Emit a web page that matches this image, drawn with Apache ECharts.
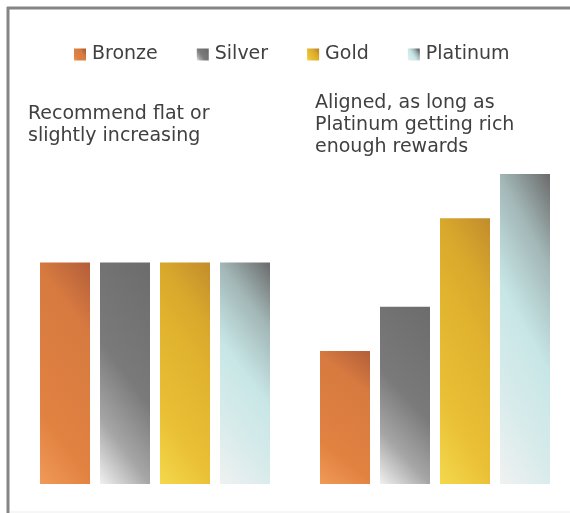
<!DOCTYPE html>
<html>
<head>
<meta charset="utf-8">
<script src="https://cdn.jsdelivr.net/npm/echarts@6/dist/echarts.min.js"></script>
<style>
  html, body { margin: 0; padding: 0; background: #ffffff; }
  #chart { width: 570px; height: 513px; }
</style>
</head>
<body>
<div id="chart"></div>
<script>
// Two scenarios, four reward tiers
const categories = ['Flat', 'Aligned'];
const tiers = ['Bronze', 'Silver', 'Gold', 'Platinum'];
const bronze = [5, 3];
const silver = [5, 4];
const gold = [5, 6];
const platinum = [5, 7];
const notes = [
  'Recommend flat or\nslightly increasing',
  'Aligned, as long as\nPlatinum getting rich\nenough rewards'
];

// Layout: category centres sit on the grid edges (boundaryGap off)
const W = 570, H = 513;
const GRID_LEFT = 155, GRID_WIDTH = 280, GRID_TOP = 41, GRID_BOTTOM = 29;
const Y_MAX = 10;
const BAR_W = 50;
const pxPerUnit = (H - GRID_TOP - GRID_BOTTOM) / Y_MAX;

// Colour stops per tier, light (bottom-left) to dark (top-right)
const stops = {
  Bronze: [[0, '#f09a58'], [0.25, '#e28241'], [0.75, '#d67a40'], [1, '#b45e3a']],
  Silver: [[0, '#f0f0f0'], [0.23, '#a6a6a6'], [0.5, '#7a7a7a'], [1, '#6c6c6c']],
  Gold: [[0, '#f4d84c'], [0.25, '#eac036'], [0.6, '#e0b22e'], [0.77, '#d8a82c'], [1, '#c28c2c']],
  Platinum: [[0, '#f0f1f1'], [0.25, '#d8ebeb'], [0.5, '#c8e6e6'], [0.77, '#a2b6b6'], [1, '#6a6a6a']]
};
const values = { Bronze: bronze, Silver: silver, Gold: gold, Platinum: platinum };

// Shape-scaled diagonal gradient: t = A*u + B*v (u across, v up, both 0..1 of the bar box)
const A = 0.23, B = 0.77;
function metal(name, aspect) {
  const d = A * A + (B * B) / (aspect * aspect);
  const x2 = A / d;
  const yUp = B / (aspect * aspect * A * A + B * B);
  return {
    type: 'linear', x: 0, y: 1, x2: x2, y2: 1 - yUp,
    colorStops: stops[name].map(s => ({ offset: s[0], color: s[1] }))
  };
}
function legendFill(name) {
  return {
    type: 'linear', x: 0, y: 1, x2: 1, y2: 0.3,
    colorStops: stops[name].map(s => ({ offset: s[0], color: s[1] }))
  };
}

const chart = echarts.init(document.getElementById('chart'), null, { renderer: 'canvas' });
const font = 'DejaVu Sans';

chart.setOption({
  backgroundColor: '#ffffff',
  animation: false,
  legend: {
    data: tiers,
    left: 74,
    top: 45,
    padding: 0,
    itemWidth: 12,
    itemHeight: 12,
    itemGap: 39,
    icon: 'rect',
    selectedMode: false,
    textStyle: { fontFamily: font, fontSize: 19, color: '#404040', padding: [0, 0, 0, 1] }
  },
  grid: { left: GRID_LEFT, width: GRID_WIDTH, top: GRID_TOP, bottom: GRID_BOTTOM },
  xAxis: { type: 'category', data: categories, show: false, boundaryGap: false },
  yAxis: { type: 'value', min: 0, max: Y_MAX, show: false },
  series: tiers.map(t => ({
    name: t,
    type: 'bar',
    barWidth: BAR_W,
    barGap: '20%',
    itemStyle: { color: legendFill(t) },
    data: values[t].map(v => ({
      value: v,
      itemStyle: { color: metal(t, (v * pxPerUnit) / BAR_W) }
    }))
  })),
  graphic: [
    { type: 'line', shape: { x1: 8, y1: 7, x2: 8, y2: H }, style: { stroke: '#858585', lineWidth: 3 } },
    { type: 'line', shape: { x1: 7, y1: 8, x2: W, y2: 8 }, style: { stroke: '#858585', lineWidth: 3 } },
    { type: 'line', shape: { x1: 10, y1: 512, x2: W, y2: 512 }, style: { stroke: '#eeeeee', lineWidth: 1 } },
    {
      type: 'text', left: 28, top: 103,
      style: { text: notes[0], fontFamily: font, fontSize: 19, lineHeight: 22, fill: '#404040' }
    },
    {
      type: 'text', left: 315, top: 92,
      style: { text: notes[1], fontFamily: font, fontSize: 19, lineHeight: 22, fill: '#404040' }
    }
  ]
});
</script>
</body>
</html>
